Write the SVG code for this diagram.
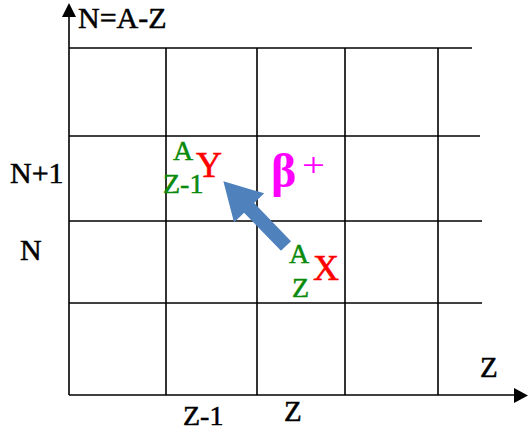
<svg xmlns="http://www.w3.org/2000/svg" width="528" height="430" viewBox="0 0 528 430">
<defs>
<style>
.g{stroke:#000;stroke-width:1.6;fill:none}
.t{font-family:"Liberation Serif","Times New Roman",serif;fill:#000;stroke:#000;stroke-width:0.5;font-size:29px}
.gr{font-family:"Liberation Serif","Times New Roman",serif;fill:#0a8a0a;stroke:#0a8a0a;stroke-width:0.5;font-size:28px}
.rd{font-family:"Liberation Serif","Times New Roman",serif;fill:#ff0000;stroke:#ff0000;stroke-width:0.6;font-size:36px}
.bt{font-family:"Liberation Serif","Times New Roman",serif;fill:#ff00ff}
</style>
</defs>
<rect width="528" height="430" fill="#fff"/>
<g id="grid">
<line class="g" x1="69" y1="48" x2="472" y2="48"/>
<line class="g" x1="69" y1="136" x2="480" y2="136"/>
<line class="g" x1="69" y1="221" x2="482" y2="221"/>
<line class="g" x1="69" y1="303" x2="482" y2="303"/>
<line class="g" x1="166" y1="48" x2="166" y2="395"/>
<line class="g" x1="257" y1="48" x2="257" y2="395"/>
<line class="g" x1="345" y1="48" x2="345" y2="395"/>
<line class="g" x1="438" y1="48" x2="438" y2="395"/>
</g>
<g id="axes">
<line class="g" x1="69" y1="395" x2="69" y2="16"/>
<path d="M62,17 L69,3 L76,17 z" fill="#000"/>
<line class="g" x1="69" y1="395" x2="515" y2="395"/>
<path d="M514,388 L528,395.5 L514,403 z" fill="#000"/>
</g>
<g id="labels">
<text class="t" x="78" y="28" style="font-size:30px">N=A-Z</text>
<text class="t" x="10" y="183" style="font-size:30px">N+1</text>
<text class="t" x="20" y="260" style="font-size:30px">N</text>
<text class="t" x="480" y="377">Z</text>
<text class="t" x="183" y="425" style="font-size:28px">Z-1</text>
<text class="t" x="284" y="421">Z</text>
</g>
<g id="nuclideY">
<text class="gr" x="173" y="160">A</text>
<text class="gr" x="163" y="193">Z-1</text>
<text class="rd" x="196" y="177">Y</text>
</g>
<g id="nuclideX">
<text class="gr" x="289" y="263">A</text>
<text class="gr" x="292" y="297">Z</text>
<text class="rd" x="313" y="280">X</text>
</g>
<g id="connectors">
<polygon transform="translate(286,246) rotate(225.9)" points="0,-7 53,-7 53,-21 90,0 53,21 53,7 0,7" fill="#4f81bd"/>
</g>
<g id="beta">
<text class="bt" x="271" y="187" style="font-size:48px;font-weight:bold">β</text>
<text class="bt" x="302" y="176" style="font-size:34px" transform="translate(302,0) scale(1.2,1) translate(-302,0)">+</text>
</g>
</svg>
